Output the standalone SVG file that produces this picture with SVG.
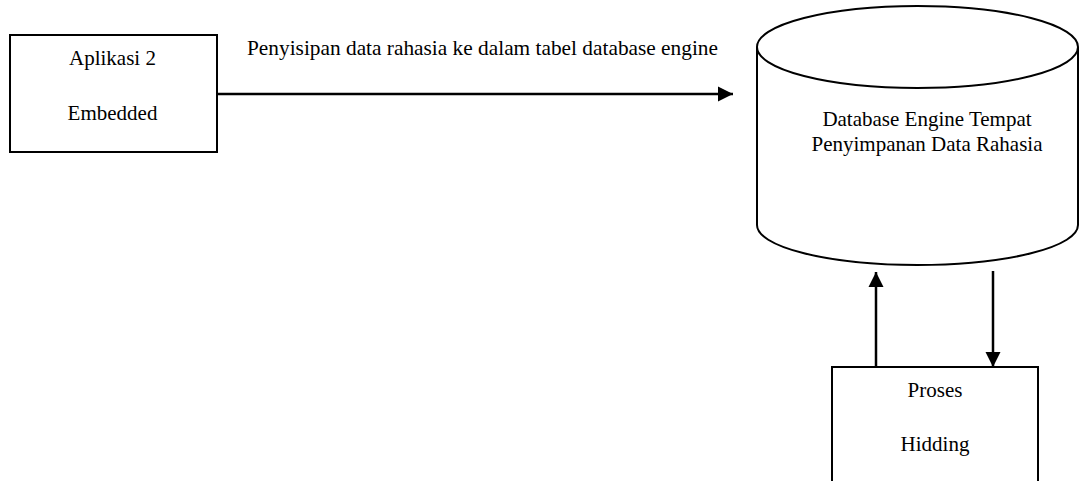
<svg xmlns="http://www.w3.org/2000/svg" width="1083" height="481" viewBox="0 0 1083 481">
  <style>
    .box { fill: #fff; stroke: #000; stroke-width: 2; }
    .edge { fill: none; stroke: #000; stroke-width: 2.5; }
    text { font-family: "Liberation Serif", "Times New Roman", serif; font-size: 21px; fill: #000; }
    .c { text-anchor: middle; }
  </style>
  <defs>
    <marker id="arrow" viewBox="0 0 10 10" refX="10" refY="5" markerWidth="6" markerHeight="6.4" markerUnits="strokeWidth" orient="auto">
      <path d="M0,0 L10,5 L0,10 z" fill="#000"/>
    </marker>
  </defs>
  <rect width="1083" height="481" fill="#fff"/>

  <g id="aplikasi">
    <rect class="box" x="10" y="35" width="207" height="117"/>
    <text class="c" x="112.5" y="65">Aplikasi 2</text>
    <text class="c" x="112.5" y="120">Embedded</text>
  </g>

  <g id="database">
    <path class="box" d="M757,47 L757,225 A160.5,40 0 0 0 1078,225 L1078,47 A160.5,41 0 0 0 757,47 Z"/>
    <path class="box" fill="none" d="M757,47 A160.5,41 0 0 0 1078,47"/>
    <text class="c" x="927" y="126">Database Engine Tempat</text>
    <text class="c" x="927" y="151">Penyimpanan Data Rahasia</text>
  </g>

  <g id="proses">
    <rect class="box" x="832" y="367" width="206" height="130"/>
    <text class="c" x="935" y="397">Proses</text>
    <text class="c" x="935" y="451">Hidding</text>
  </g>

  <g id="connectors">
    <line class="edge" x1="217" y1="94" x2="733" y2="94" marker-end="url(#arrow)"/>
    <text x="247" y="55" textLength="471" lengthAdjust="spacingAndGlyphs">Penyisipan data rahasia ke dalam tabel database engine</text>
    <line class="edge" x1="876" y1="367" x2="876" y2="272" marker-end="url(#arrow)"/>
    <line class="edge" x1="993" y1="271" x2="993" y2="367" marker-end="url(#arrow)"/>
  </g>
</svg>
